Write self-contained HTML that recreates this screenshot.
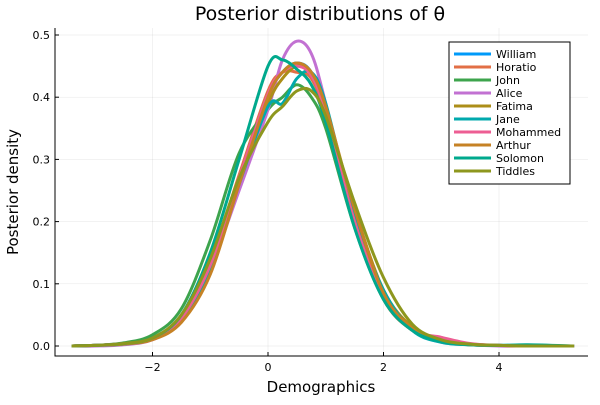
<!DOCTYPE html>
<html><head><meta charset="utf-8"><style>
body{margin:0;background:#fff;font-family:"Liberation Sans","DejaVu Sans",sans-serif}
svg text{font-family:"DejaVu Sans","Liberation Sans",sans-serif}
</style></head><body>
<svg id="c" width="600" height="400">
<text x="320" y="20" font-size="19" text-anchor="middle" fill="#000">Posterior distributions of θ</text>
<text x="321" y="392" font-size="15" text-anchor="middle">Demographics</text>
<text transform="translate(18,192) rotate(-90)" font-size="15" text-anchor="middle">Posterior density</text>
<g id="grid"></g><g id="axes"></g><g id="lines"></g><g id="legend"></g>
</svg>
<script>
const xGrid=[-3.4,-3,-2.5,-2,-1.5,-1,-0.5,0,0.25,0.5,0.75,1,1.5,2,2.5,3,3.5,4,4.5,5.3];
const seriesNames=["William","Horatio","John","Alice","Fatima","Jane","Mohammed","Arthur","Solomon","Tiddles"];
const seriesColors=["#009af9","#e26f46","#3da44d","#c271d2","#ac8e18","#00a9ad","#ed5e93","#c68225","#00a98d","#8e971e"];
const william=[0,0.001,0.004,0.012,0.045,0.13,0.27,0.40,0.44,0.455,0.44,0.38,0.21,0.085,0.03,0.008,0.002,0.001,0,0];
const horatio=[0,0.001,0.004,0.013,0.047,0.135,0.275,0.41,0.44,0.44,0.43,0.37,0.2,0.075,0.025,0.008,0.003,0.001,0,0];
const john=[0,0.001,0.005,0.018,0.06,0.17,0.31,0.38,0.40,0.42,0.40,0.35,0.19,0.075,0.025,0.008,0.002,0.001,0,0];
const alice=[0,0,0.002,0.01,0.04,0.125,0.25,0.38,0.46,0.49,0.47,0.39,0.20,0.08,0.025,0.006,0.002,0,0,0];
const fatima=[0,0.001,0.004,0.012,0.042,0.125,0.27,0.39,0.43,0.45,0.44,0.38,0.22,0.09,0.03,0.008,0.002,0.001,0,0];
const jane=[0,0.001,0.003,0.011,0.04,0.12,0.26,0.385,0.39,0.43,0.44,0.39,0.21,0.09,0.025,0.006,0.002,0.001,0.001,0];
const mohammed=[0,0.001,0.004,0.012,0.045,0.13,0.27,0.405,0.44,0.45,0.435,0.375,0.2,0.08,0.026,0.014,0.004,0.001,0,0];
const arthur=[0,0.001,0.003,0.01,0.038,0.115,0.26,0.40,0.44,0.455,0.44,0.385,0.22,0.085,0.028,0.008,0.002,0.001,0,0];
const solomon=[0,0.001,0.004,0.013,0.05,0.15,0.30,0.45,0.46,0.445,0.42,0.36,0.19,0.075,0.025,0.007,0.002,0.001,0.002,0];
const tiddles=[0,0.001,0.004,0.013,0.05,0.14,0.27,0.36,0.385,0.41,0.41,0.37,0.23,0.11,0.035,0.01,0.003,0.001,0,0];
const seriesData=[william,horatio,john,alice,fatima,jane,mohammed,arthur,solomon,tiddles];
const xTicks=[-2,0,2,4];
const yTicks=[0,0.1,0.2,0.3,0.4,0.5];

const NS="http://www.w3.org/2000/svg";
const L=55,R=588,T=28,B=356;
const sx=v=>268+v*57.75;
const sy=v=>346-v*622;
function mk(tag,attrs,parent){const e=document.createElementNS(NS,tag);for(const k in attrs)e.setAttribute(k,attrs[k]);parent.appendChild(e);return e;}
const grid=document.getElementById('grid'),axes=document.getElementById('axes'),lines=document.getElementById('lines'),leg=document.getElementById('legend');
xTicks.forEach(t=>{
  const g=mk('line',{x1:sx(t),x2:sx(t),y1:T,y2:B,stroke:'#000','stroke-opacity':0.1,'stroke-width':0.5},grid);
  
  
  const tk=mk('line',{x1:sx(t),x2:sx(t),y1:B,y2:B-4,stroke:'#000','stroke-width':1},axes);
  
  
  const tx=mk('text',{x:sx(t),y:B+15,'font-size':11,'text-anchor':'middle'},axes);
  tx.textContent=(t<0?'−':'')+Math.abs(t);
  
  
});
yTicks.forEach(t=>{
  const g=mk('line',{x1:L,x2:R,y1:sy(t),y2:sy(t),stroke:'#000','stroke-opacity':0.1,'stroke-width':0.5},grid);
  
  
  const tk=mk('line',{x1:L,x2:L+4,y1:sy(t),y2:sy(t),stroke:'#000','stroke-width':1},axes);
  
  
  const tx=mk('text',{x:L-5,y:sy(t)+4,'font-size':11,'text-anchor':'end'},axes);
  tx.textContent=t.toFixed(1);
  
  
});
const ax=mk('path',{d:`M${L},${T}V${B}H${R}`,fill:'none',stroke:'#000','stroke-width':1},axes);


function smooth(pts){
  let d=`M${pts[0][0]},${pts[0][1]}`;
  for(let i=0;i<pts.length-1;i++){
    const p0=pts[Math.max(0,i-1)],p1=pts[i],p2=pts[i+1],p3=pts[Math.min(pts.length-1,i+2)];
    const c1=[p1[0]+(p2[0]-p0[0])/6,p1[1]+(p2[1]-p0[1])/6],c2=[p2[0]-(p3[0]-p1[0])/6,p2[1]-(p3[1]-p1[1])/6];
    d+=`C${c1[0]},${c1[1]} ${c2[0]},${c2[1]} ${p2[0]},${p2[1]}`;
  }
  return d;
}
seriesData.forEach((arr,i)=>{
  const pts=xGrid.map((x,j)=>[sx(x),sy(arr[j])]);
  const p=mk('path',{d:smooth(pts),fill:'none',stroke:seriesColors[i],'stroke-width':3,'stroke-linejoin':'round'},lines);
  
  
});
const box=mk('rect',{x:449,y:42,width:121,height:142,fill:'#fff',stroke:'#000','stroke-width':1},leg);


seriesNames.forEach((n,i)=>{
  const y=54+i*13;
  const l=mk('line',{x1:454,x2:491,y1:y,y2:y,stroke:seriesColors[i],'stroke-width':3},leg);
  
  
  const t=mk('text',{x:496,y:y+4,'font-size':11},leg);
  t.textContent=n;
  
  
});
</script>
</body></html>
